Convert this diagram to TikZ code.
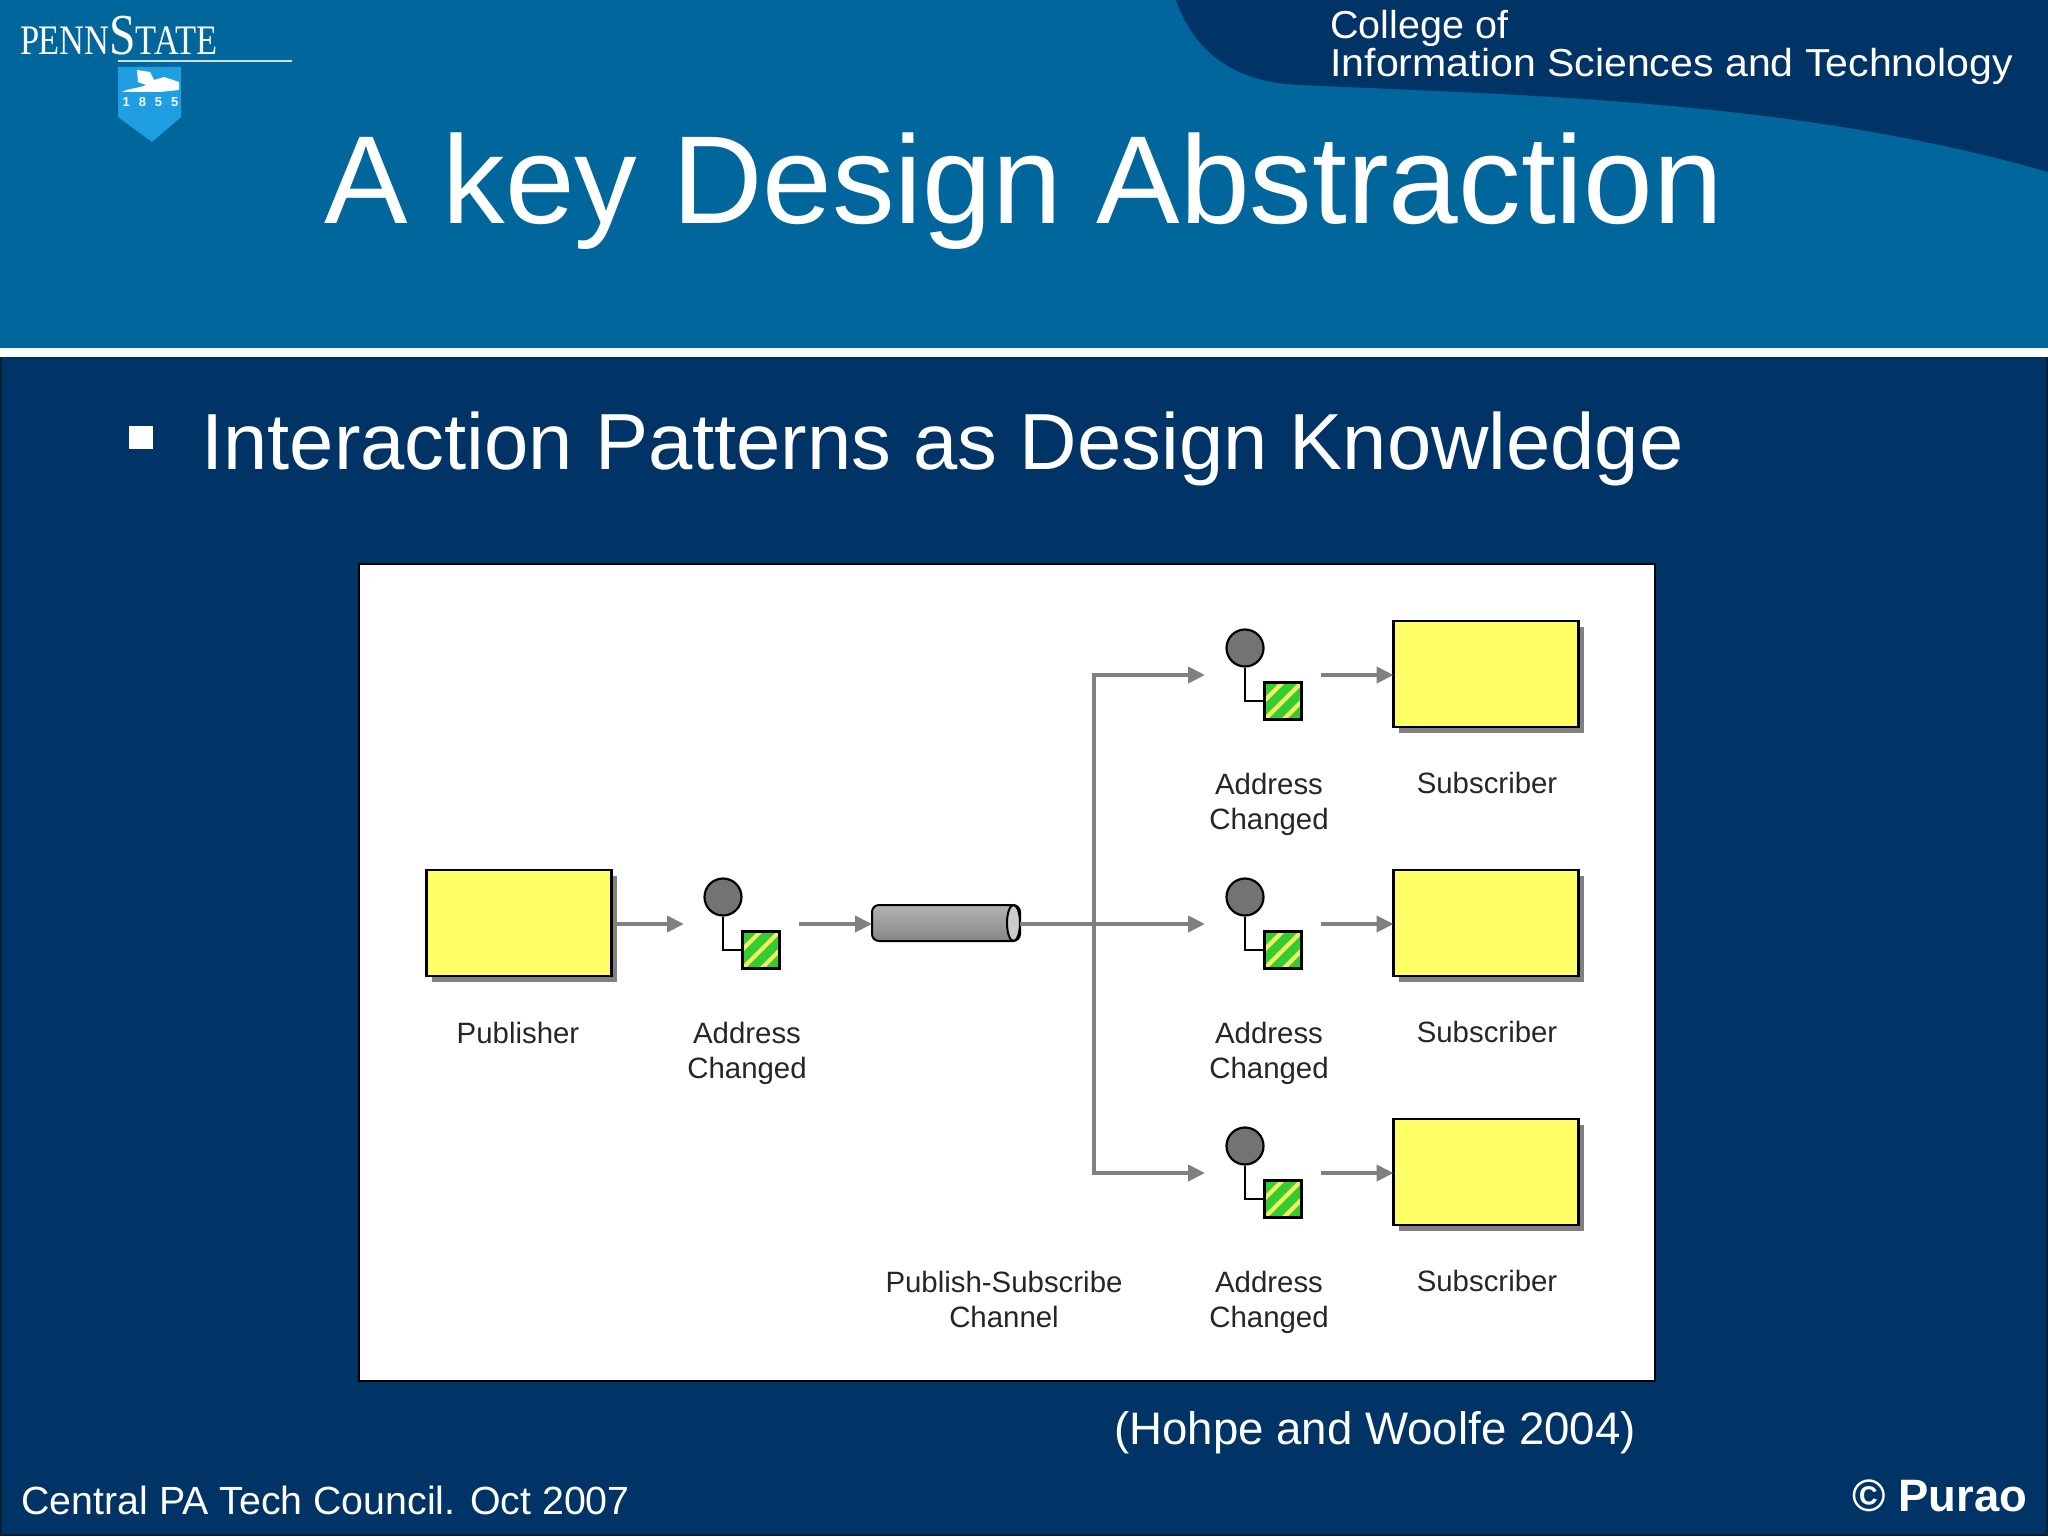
\documentclass[tikz,border=0pt]{standalone}
\usepackage{fontspec}
\setmainfont{Liberation Sans}
\newfontfamily\logofont{Liberation Serif}
\usetikzlibrary{arrows.meta,shadows,shapes.geometric}
\definecolor{headblue}{HTML}{00669C}
\definecolor{bodyblue}{HTML}{003366}
\definecolor{edgeblue}{HTML}{0A2036}
\definecolor{shieldblue}{HTML}{1F9EE2}
\definecolor{boxyellow}{HTML}{FFFF66}
\definecolor{stripeyellow}{HTML}{F2F060}
\definecolor{msggreen}{HTML}{33CC33}
\definecolor{wiregray}{HTML}{808080}
\tikzset{
  wire/.style={draw=wiregray,line width=2pt},
  flow/.style={wire,-{Triangle[length=8.5pt,width=8pt]},shorten >=0pt},
  yellowbox/.style={draw=black,line width=1.2pt,fill=boxyellow,inner sep=0pt,outer sep=0pt,
    minimum width=92.5pt,minimum height=53pt,
    drop shadow={shadow xshift=2.7pt,shadow yshift=-3.2pt,fill=wiregray,opacity=1}},
  lbl/.style={font=\fontsize{14.7}{17.5}\selectfont,align=center,anchor=base,inner sep=0pt,text=black!85},
  slidetext/.style={text=white,anchor=base west,inner sep=0pt},
  msgdot/.style={circle,draw=black,line width=1.1pt,fill=black!55,inner sep=0pt,minimum size=18.5pt},
  msgsq/.style={draw=black,line width=1.1pt,fill=msggreen,inner sep=0pt,minimum size=18.5pt,
    path picture={
      \foreach \off in {-19,0,19}
        \draw[stripeyellow,line width=2.1pt] ([xshift=\off*0.5pt,yshift=-12pt]path picture bounding box.center)
          ++(-12pt,0pt) -- ++(24pt,24pt);
    }},
}
\begin{document}
\begin{tikzpicture}[x=0.5pt,y=-0.5pt]
  % slide background
  \fill [bodyblue] (0,0) rectangle (2048,1536);
  \draw [edgeblue,line width=1pt] (1,357) -- (1,1535) -- (2047,1535) -- (2047,357);
  \fill [headblue] (0,0) rectangle (2048,348);
  \fill [white] (0,348) rectangle (2048,357);
  \fill [bodyblue] (1176,0) .. controls (1190,40) and (1222,82) .. (1300,85)
    .. controls (1520,95) and (1800,100) .. (2048,172) -- (2048,0) -- cycle;
  % logo
  \node (logoname) [slidetext,xscale=0.82] at (20,55) {\logofont\fontsize{21}{21}\selectfont P\kern-.5pt ENN\fontsize{29}{29}\selectfont S\fontsize{21}{21}\selectfont TATE};
  \draw [white!80!headblue,line width=1pt] (118,61) -- (292,61);
  \fill [shieldblue] (118,67) -- (181,67) -- (181,117) -- (152,142) -- (118,117) -- cycle;
  \fill [white] (122,92) .. controls (130,88) and (140,88) .. (146,85) -- (138,82) -- (137,70) -- (150,72) -- (154,80)
    -- (164,77) -- (179,82) -- (179,90) -- (160,92) -- cycle;
  \node (logoyear) [text=white,inner sep=0pt,font=\bfseries\fontsize{6.5}{7}\selectfont] at (150.5,102) {1\hspace{4.5pt}8\hspace{4.5pt}5\hspace{4.5pt}5};
  % header
  \node (college) [slidetext,xscale=1.013,font=\fontsize{19.5}{20}\selectfont] at (1330,39) {College of};
  \node (school) [slidetext,xscale=1.053,font=\fontsize{19.5}{20}\selectfont] at (1330,76) {Information Sciences and Technology};
  \node (title) [slidetext,font=\fontsize{62.6}{70}\selectfont] at (324,223) {A key Design Abstraction};
  \fill [white] (129,426) rectangle (153,449);
  \node (subhead) [slidetext,font=\fontsize{39.8}{44}\selectfont] at (201,469) {Interaction Patterns as Design Knowledge};
  % diagram panel
  \filldraw [fill=white,draw=black,line width=1.1pt] (359,564) rectangle (1655,1381);
  \node (pub) [yellowbox] at (519,923) {};
  \node [lbl] at (518,1043) {Publisher};
  \foreach \nm/\cy in {a/675,b/924,c/1173} {
    \node (sub\nm) [yellowbox] at (1486,\cy-1) {};
    \node [lbl] at (1487,\cy+118) {Subscriber};
    \coordinate (out\nm) at (1321,\cy);
    \coordinate (in\nm) at (1205,\cy);
    \draw [flow] (out\nm) -- (sub\nm.west |- out\nm);
  }
  % message icons
  \foreach \nm/\cx/\cy in {p/723/924,a/1245/675,b/1245/924,c/1245/1173} {
    \node (dot\nm) [msgdot] at (\cx,\cy-27) {};
    \node (sq\nm) [msgsq] at (\cx+38,\cy+26) {};
    \draw [black,line width=1.1pt] (dot\nm) |- (sq\nm);
    \node [lbl] at (\cx+24,\cy+154) {Address\\Changed};
  }
  % channel
  \node (chan) [draw=black,line width=1pt,inner sep=0pt,outer sep=0pt,minimum width=74pt,minimum height=18pt,
    rounded corners=3.5pt,top color=gray!60,bottom color=gray!95] at (946,923) {};
  \node (chanend) [ellipse,draw=black,line width=1pt,fill=gray!40,inner sep=0pt,outer sep=0pt,
    minimum width=6.5pt,minimum height=18pt] at (1013.5,923) {};
  \node [lbl] at (1004,1327) {Publish-Subscribe\\Channel};
  \coordinate (pubout) at (617,924);
  \coordinate (msgin) at (684,924);
  \coordinate (msgout) at (799,924);
  \coordinate (branch) at (1094,924);
  \draw [flow] (pubout) -- (msgin);
  \draw [flow] (msgout) -- (chan.west |- msgout);
  \draw [wire] (chanend.east |- branch) -- (branch);
  \draw [flow] (branch) -- (inb);
  \draw [flow] (branch) |- (ina);
  \draw [flow] (branch) |- (inc);
  % footer
  \node (cite) [slidetext,font=\fontsize{22.8}{26}\selectfont] at (1114,1444) {(Hohpe and Woolfe 2004)};
  \node (venue) [slidetext,font=\fontsize{19.66}{24}\selectfont] at (21,1514) {Central PA Tech Council. Oct 2007};
  \node (copy) [slidetext,font=\bfseries\fontsize{22.7}{24}\selectfont] at (1852,1511) {© Purao};
\end{tikzpicture}
\end{document}
